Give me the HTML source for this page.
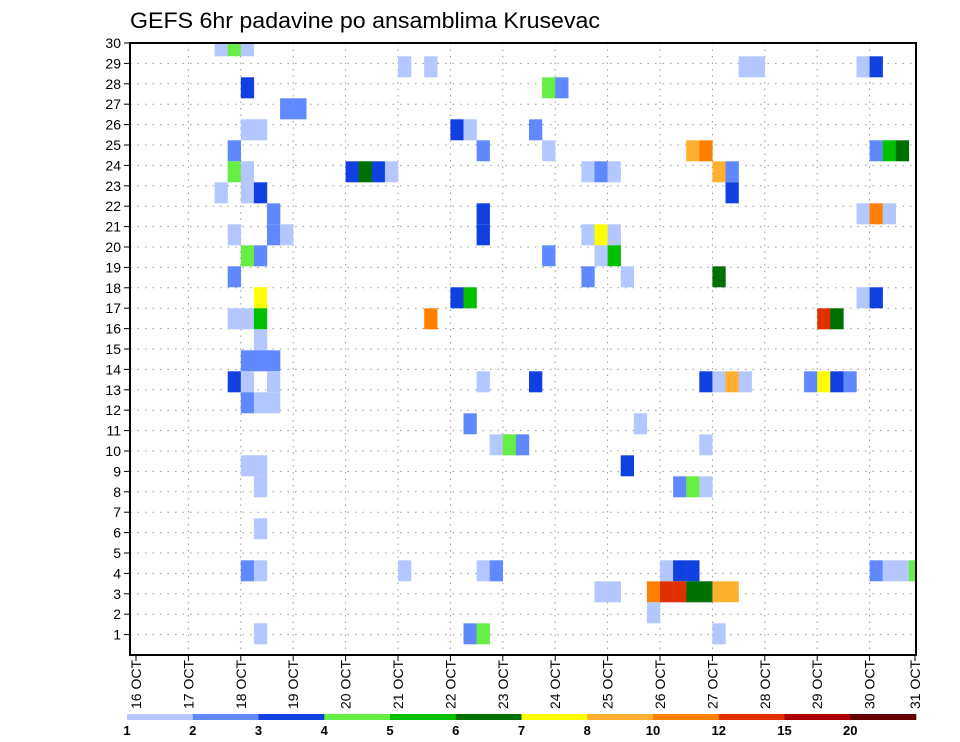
<!DOCTYPE html>
<html><head><meta charset="utf-8">
<style>
html,body{margin:0;padding:0;background:#fff;}
svg{display:block;font-family:"Liberation Sans",sans-serif;}
</style></head>
<body>
<svg id="chart" width="960" height="742" viewBox="0 0 960 742" xmlns="http://www.w3.org/2000/svg">
<rect width="960" height="742" fill="#fff"/>
<text x="130" y="28" font-size="22" textLength="470" lengthAdjust="spacingAndGlyphs" fill="#000">GEFS 6hr padavine po ansamblima Krusevac</text>
<defs><clipPath id="plotclip"><rect x="130" y="43" width="786" height="612"/></clipPath></defs>
<g id="grid"></g>
<g id="cells" clip-path="url(#plotclip)"></g>
<rect x="130" y="43" width="786" height="612" fill="none" stroke="#000" stroke-width="2"/>
<g id="yaxis"></g>
<g id="xaxis"></g>
<g id="legend"></g>
</svg>
<script>
// member rows (bottom cell = 0), 6-hourly time steps from 16 OCT 00z, precip (mm)
const cellMember = [
28,28,28,
27,27,27,27,27,27,
26,26,26,
25,25,
24,24,24,24,24,
23,23,23,23,23,23,23,23,
22,22,22,22,22,22,22,22,22,22,22,
21,21,21,21,
20,20,20,20,20,
19,19,19,19,19,19,19,
18,18,18,18,18,
17,17,17,17,
16,16,16,16,16,
15,15,15,15,15,15,
14,
13,13,13,
12,12,12,12,12,12,12,12,12,12,12,12,12,
11,11,11,
10,10,
9,9,9,9,
8,8,8,
7,7,7,7,
5,
3,3,3,3,3,3,3,3,3,3,3,3,
2,2,2,2,2,2,2,2,2,
1,
0,0,0,0];
const cellTime = [
6,7,8,
20,22,46,47,55,56,
8,31,32,
11,12,
8,9,24,25,30,
7,26,31,42,43,56,57,58,
7,8,16,17,18,19,34,35,36,44,45,
6,8,9,45,
10,26,55,56,57,
7,10,11,26,34,35,36,
8,9,31,35,36,
7,34,37,44,
9,24,25,55,56,
7,8,9,22,52,53,
9,
8,9,10,
7,8,10,26,30,43,44,45,46,51,52,53,54,
8,9,10,
25,38,
27,28,29,43,
8,9,37,
9,41,42,43,
9,
8,9,20,26,27,40,41,42,56,57,58,59,
35,36,39,40,41,42,43,44,45,
39,
9,25,26,44];
const cellValue = [
1.5,4.5,1.5,
1.5,1.5,1.5,1.5,1.5,3.5,
3.5,4.5,2.5,
2.5,2.5,
1.5,1.5,3.5,1.5,2.5,
2.5,2.5,1.5,9,11,2.5,5.5,6.5,
4.5,1.5,3.5,6.5,3.5,1.5,1.5,2.5,1.5,9,2.5,
1.5,1.5,3.5,3.5,
2.5,3.5,1.5,11,1.5,
1.5,2.5,1.5,3.5,1.5,7.5,1.5,
4.5,2.5,2.5,1.5,5.5,
2.5,2.5,1.5,6.5,
7.5,3.5,5.5,1.5,3.5,
1.5,1.5,5.5,11,13.5,6.5,
1.5,
2.5,2.5,2.5,
3.5,1.5,1.5,1.5,3.5,3.5,1.5,9,1.5,2.5,7.5,3.5,2.5,
2.5,1.5,1.5,
2.5,1.5,
1.5,4.5,2.5,1.5,
1.5,1.5,3.5,
1.5,2.5,4.5,1.5,
1.5,
2.5,1.5,1.5,1.5,2.5,1.5,3.5,3.5,2.5,1.5,1.5,4.5,
1.5,1.5,11,13.5,13.5,6.5,6.5,9,9,
1.5,
1.5,2.5,4.5,1.5];
const levelBounds = [1,2,3,4,5,6,7,8,10,12,15,20];
const levelLabels = ["1","2","3","4","5","6","7","8","10","12","15","20"];
const levelColors = ["#b4c8ff","#6088ff","#1040e0","#66ee44","#00c000","#007000","#ffff00","#ffb030","#ff8000","#e03000","#a80000","#640000"];
const yTickLabels = [1,2,3,4,5,6,7,8,9,10,11,12,13,14,15,16,17,18,19,20,21,22,23,24,25,26,27,28,29,30];
const dayLabels = [16,17,18,19,20,21,22,23,24,25,26,27,28,29,30,31];

const NS = "http://www.w3.org/2000/svg";
const X0 = 136, STEP = 13.1, DAY = 52.4;
const xTime = k => X0 + k * STEP;
const yCellTop = m => 623.3 - 21 * m;
const yLabel = n => 655 - 20.4 * n;
const xDay = i => Math.min(X0 + i * DAY, 915);
function colorFor(v){ let c = 0; for (let i=0;i<levelBounds.length;i++) if (v >= levelBounds[i]) c = i; return levelColors[c]; }
function mk(tag, attrs, parent){ const e = document.createElementNS(NS, tag); for (const k in attrs) e.setAttribute(k, attrs[k]); parent.appendChild(e); return e; }

const grid = document.getElementById('grid');
for (let i=1;i<dayLabels.length-1;i++){
  const l = mk('line',{x1:xDay(i),x2:xDay(i),y1:43,y2:655,stroke:'#999','stroke-width':1,'stroke-dasharray':'1.5,5'},grid);
  
  
}
yTickLabels.forEach(n=>{
  const l = mk('line',{x1:130,x2:916,y1:yLabel(n),y2:yLabel(n),stroke:'#999','stroke-width':1,'stroke-dasharray':'1.5,6'},grid);
  
  
});

const cells = document.getElementById('cells');
for (let i=0;i<cellValue.length;i++){
  const r = mk('rect',{x:xTime(cellTime[i]),y:yCellTop(cellMember[i]),width:STEP+0.2,height:21,fill:colorFor(cellValue[i])},cells);
  
  
}

const ya = document.getElementById('yaxis');
yTickLabels.forEach(n=>{
  const y = yLabel(n);
  const t = mk('line',{x1:124,x2:130,y1:y,y2:y,stroke:'#000','stroke-width':1},ya);
  
  
  const tx = mk('text',{x:121,y:y+5,'font-size':14,'text-anchor':'end',fill:'#000'},ya);
  tx.textContent = n;
  
  
});

const xa = document.getElementById('xaxis');
dayLabels.forEach((d,i)=>{
  const x = xDay(i);
  const t = mk('line',{x1:x,x2:x,y1:655,y2:661,stroke:'#000','stroke-width':1},xa);
  
  
  const tx = mk('text',{x:0,y:0,'font-size':14,'text-anchor':'end',fill:'#000',transform:`translate(${x+5},660) rotate(-90)`},xa);
  tx.textContent = d + ' OCT';
  
  
});

const lg = document.getElementById('legend');
const LX0 = 127, LW = (916-127)/levelColors.length;
levelColors.forEach((c,i)=>{
  const r = mk('rect',{x:LX0+i*LW,y:714,width:LW+0.3,height:6,fill:c},lg);
  
  
  const t = mk('text',{x:LX0+i*LW,y:735,'font-size':13,'font-weight':'bold','text-anchor':'middle',fill:'#000'},lg);
  t.textContent = levelLabels[i];
  
  
});
</script>
</body></html>
